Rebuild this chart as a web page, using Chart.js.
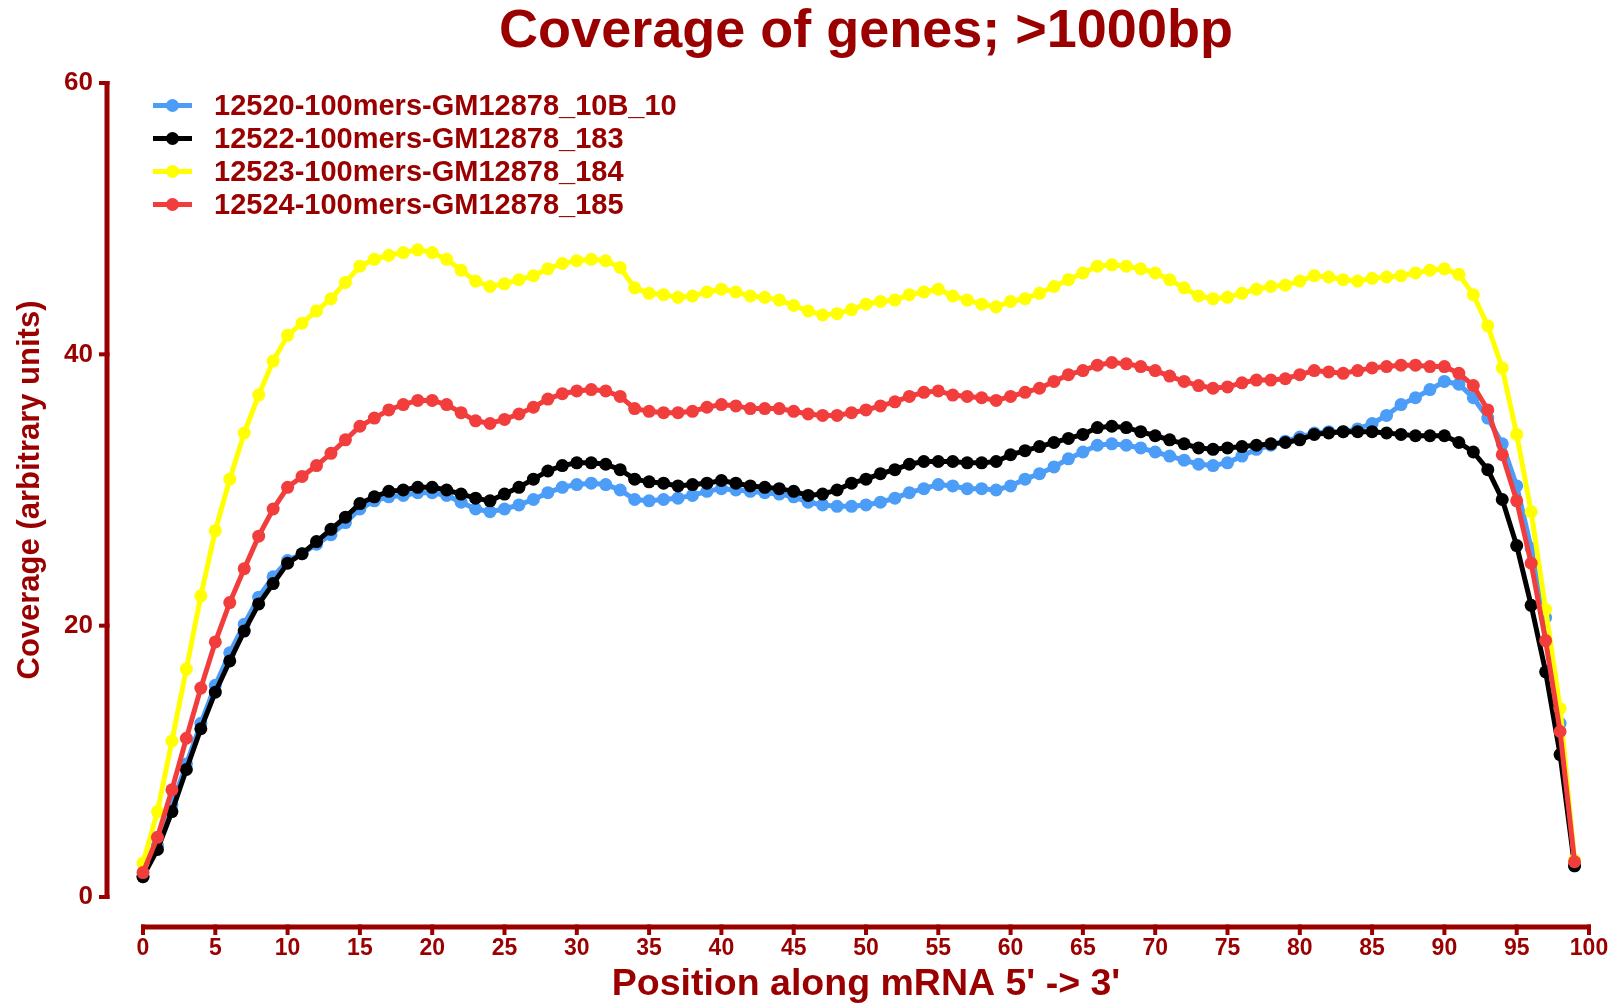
<!DOCTYPE html>
<html>
<head>
<meta charset="utf-8">
<title>Coverage of genes; >1000bp</title>
<script src="https://cdn.jsdelivr.net/npm/chart.js@4.4.1/dist/chart.umd.min.js"></script>
<style>
  html, body { margin: 0; padding: 0; background: #ffffff; }
  #wrap { width: 1621px; height: 1003px; position: relative; }
</style>
</head>
<body>
<div id="wrap"><canvas id="chart" width="1621" height="1003"></canvas></div>
<script>
// Percentile position along the transcript (5' -> 3')
const positions = [
  0, 1, 2, 3, 4, 5, 6, 7, 8, 9, 10, 11, 12, 13, 14, 15, 16, 17, 18, 19,
  20, 21, 22, 23, 24, 25, 26, 27, 28, 29, 30, 31, 32, 33, 34, 35, 36, 37, 38, 39,
  40, 41, 42, 43, 44, 45, 46, 47, 48, 49, 50, 51, 52, 53, 54, 55, 56, 57, 58, 59,
  60, 61, 62, 63, 64, 65, 66, 67, 68, 69, 70, 71, 72, 73, 74, 75, 76, 77, 78, 79,
  80, 81, 82, 83, 84, 85, 86, 87, 88, 89, 90, 91, 92, 93, 94, 95, 96, 97, 98, 99
];

const seriesNames = [
  '12520-100mers-GM12878_10B_10',
  '12522-100mers-GM12878_183',
  '12523-100mers-GM12878_184',
  '12524-100mers-GM12878_185'
];

const cov10B10 = [
  1.5, 3.8, 6.8, 9.8, 12.8, 15.6, 18.0, 20.1, 22.1, 23.6,
  24.8, 25.3, 26.0, 26.7, 27.6, 28.6, 29.2, 29.5, 29.6, 29.8,
  29.8, 29.6, 29.1, 28.6, 28.4, 28.6, 28.9, 29.3, 29.8, 30.2,
  30.4, 30.5, 30.4, 30.0, 29.3, 29.2, 29.3, 29.4, 29.6, 29.9,
  30.1, 30.0, 29.9, 29.8, 29.7, 29.5, 29.1, 28.9, 28.8, 28.8,
  28.9, 29.1, 29.4, 29.8, 30.1, 30.4, 30.3, 30.1, 30.1, 30.0,
  30.3, 30.8, 31.2, 31.7, 32.3, 32.8, 33.3, 33.4, 33.3, 33.1,
  32.8, 32.5, 32.2, 31.9, 31.8, 32.0, 32.5, 33.0, 33.3, 33.6,
  33.9, 34.2, 34.3, 34.3, 34.5, 34.9, 35.5, 36.3, 36.8, 37.4,
  38.0, 37.8, 36.8, 35.3, 33.4, 30.3, 25.7, 20.6, 12.8, 2.3
];

const cov183 = [
  1.5, 3.5, 6.3, 9.4, 12.4, 15.1, 17.4, 19.6, 21.6, 23.1,
  24.6, 25.3, 26.2, 27.1, 28.0, 29.0, 29.5, 29.9, 30.0, 30.2,
  30.2, 30.0, 29.7, 29.4, 29.2, 29.7, 30.2, 30.8, 31.4, 31.8,
  32.0, 32.0, 31.9, 31.5, 30.8, 30.6, 30.5, 30.3, 30.4, 30.5,
  30.7, 30.5, 30.3, 30.2, 30.1, 29.9, 29.6, 29.7, 30.0, 30.5,
  30.8, 31.2, 31.5, 31.9, 32.1, 32.1, 32.1, 32.0, 32.0, 32.1,
  32.6, 32.9, 33.2, 33.5, 33.8, 34.1, 34.6, 34.7, 34.6, 34.3,
  34.0, 33.7, 33.4, 33.1, 33.0, 33.1, 33.2, 33.3, 33.4, 33.5,
  33.7, 34.1, 34.2, 34.3, 34.3, 34.3, 34.2, 34.1, 34.0, 34.0,
  34.0, 33.5, 32.8, 31.5, 29.3, 25.9, 21.5, 16.6, 10.5, 2.3
];

const cov184 = [
  2.5, 6.3, 11.5, 16.8, 22.2, 27.0, 30.8, 34.2, 37.0, 39.5,
  41.4, 42.3, 43.2, 44.1, 45.3, 46.5, 47.0, 47.3, 47.5, 47.7,
  47.5, 47.0, 46.2, 45.4, 45.0, 45.2, 45.5, 45.8, 46.3, 46.7,
  46.9, 47.0, 46.9, 46.4, 44.9, 44.5, 44.4, 44.2, 44.3, 44.6,
  44.8, 44.6, 44.3, 44.2, 44.0, 43.6, 43.2, 42.9, 43.0, 43.3,
  43.7, 43.9, 44.0, 44.4, 44.6, 44.8, 44.3, 44.0, 43.7, 43.5,
  43.9, 44.1, 44.5, 45.0, 45.5, 46.0, 46.5, 46.6, 46.5, 46.3,
  46.0, 45.5, 44.9, 44.3, 44.1, 44.2, 44.5, 44.8, 45.0, 45.1,
  45.4, 45.8, 45.7, 45.5, 45.4, 45.6, 45.7, 45.8, 46.0, 46.2,
  46.3, 45.9, 44.4, 42.1, 39.0, 34.1, 28.4, 21.2, 13.9, 2.7
];

const cov185 = [
  1.8, 4.4, 7.9, 11.7, 15.4, 18.8, 21.7, 24.2, 26.6, 28.6,
  30.2, 31.0, 31.8, 32.7, 33.7, 34.7, 35.3, 35.9, 36.3, 36.6,
  36.6, 36.3, 35.7, 35.1, 34.9, 35.2, 35.6, 36.1, 36.7, 37.1,
  37.3, 37.4, 37.3, 36.9, 36.0, 35.8, 35.7, 35.7, 35.8, 36.1,
  36.3, 36.2, 36.0, 36.0, 36.0, 35.8, 35.6, 35.5, 35.5, 35.7,
  35.9, 36.2, 36.5, 36.9, 37.2, 37.3, 37.0, 36.9, 36.8, 36.6,
  36.9, 37.2, 37.5, 38.0, 38.5, 38.8, 39.2, 39.4, 39.3, 39.1,
  38.8, 38.4, 38.0, 37.7, 37.5, 37.6, 37.9, 38.1, 38.1, 38.2,
  38.5, 38.8, 38.7, 38.6, 38.8, 39.0, 39.1, 39.2, 39.2, 39.1,
  39.1, 38.6, 37.7, 35.9, 32.6, 29.2, 24.6, 18.9, 12.2, 2.6
];

const seriesValues = [cov10B10, cov183, cov184, cov185];
const seriesColors = ['#4c9df7', '#000000', '#ffff00', '#f23d3d'];

const xTickValues = [0, 5, 10, 15, 20, 25, 30, 35, 40, 45, 50, 55, 60, 65, 70, 75, 80, 85, 90, 95, 100];
const yTickValues = [0, 20, 40, 60];

const INK = '#9a0000';
const FAMILY = "'Liberation Sans', Arial, Helvetica, sans-serif";

// Detached (offset) axis lines with their tick marks, placed from the scales.
const offsetAxes = {
  id: 'offsetAxes',
  beforeDatasetsDraw(chart, args, opts) {
    const { ctx, chartArea, scales } = chart;
    const xs = scales.x, ys = scales.y;
    ctx.save();
    ctx.strokeStyle = INK;
    ctx.lineCap = 'butt';

    // vertical axis
    const ax = chartArea.left - opts.yGap;
    const yTop = ys.getPixelForValue(ys.max);
    const yBot = ys.getPixelForValue(ys.min);
    ctx.lineWidth = opts.lineWidth;
    ctx.beginPath();
    ctx.moveTo(ax, yTop - opts.tickWidth / 2);
    ctx.lineTo(ax, yBot + opts.tickWidth / 2);
    ctx.stroke();
    ctx.lineWidth = opts.tickWidth;
    ys.ticks.forEach(t => {
      const py = ys.getPixelForValue(t.value);
      ctx.beginPath();
      ctx.moveTo(ax + opts.lineWidth / 2, py);
      ctx.lineTo(ax - opts.tickLength, py);
      ctx.stroke();
    });

    // horizontal axis
    const ay = chartArea.bottom + opts.xGap;
    const xL = xs.getPixelForValue(xs.min);
    const xR = xs.getPixelForValue(xs.max);
    ctx.lineWidth = opts.lineWidth;
    ctx.beginPath();
    ctx.moveTo(xL - opts.tickWidth / 2, ay);
    ctx.lineTo(xR + opts.tickWidth / 2, ay);
    ctx.stroke();
    ctx.lineWidth = opts.tickWidth;
    xs.ticks.forEach(t => {
      const px = xs.getPixelForValue(t.value);
      ctx.beginPath();
      ctx.moveTo(px, ay - opts.lineWidth / 2);
      ctx.lineTo(px, ay + opts.tickLength);
      ctx.stroke();
    });
    ctx.restore();
  }
};

// Series key drawn inside the plotting area, one row per data set.
const seriesKey = {
  id: 'seriesKey',
  afterDatasetsDraw(chart, args, opts) {
    const { ctx } = chart;
    ctx.save();
    ctx.font = `bold ${opts.fontSize}px ${FAMILY}`;
    ctx.textBaseline = 'middle';
    ctx.textAlign = 'left';
    chart.data.datasets.forEach((ds, i) => {
      const y = opts.top + i * opts.rowGap;
      ctx.strokeStyle = ds.borderColor;
      ctx.lineWidth = opts.lineWidth;
      ctx.beginPath();
      ctx.moveTo(opts.lineStart, y);
      ctx.lineTo(opts.lineEnd, y);
      ctx.stroke();
      ctx.fillStyle = ds.borderColor;
      ctx.beginPath();
      ctx.arc((opts.lineStart + opts.lineEnd) / 2, y, opts.markerRadius, 0, Math.PI * 2);
      ctx.fill();
      ctx.fillStyle = INK;
      ctx.fillText(ds.label, opts.textX, y + 1);
    });
    ctx.restore();
  }
};

// Later data sets sit on top of the earlier ones.
const drawOrder = [3, 2, 1, 0];

const datasets = seriesNames.map((name, i) => ({
  label: name,
  data: positions.map((p, k) => ({ x: p, y: seriesValues[i][k] })),
  borderColor: seriesColors[i],
  backgroundColor: seriesColors[i],
  pointBackgroundColor: seriesColors[i],
  pointBorderColor: seriesColors[i],
  borderWidth: 5,
  pointRadius: 6.5,
  pointBorderWidth: 0,
  pointHoverRadius: 6.5,
  tension: 0,
  fill: false,
  clip: false,
  order: drawOrder[i]
}));

new Chart(document.getElementById('chart'), {
  type: 'line',
  data: { datasets },
  plugins: [offsetAxes, seriesKey],
  options: {
    responsive: false,
    animation: false,
    devicePixelRatio: 1,
    events: [],
    layout: { padding: { left: 0, right: 32, top: 0, bottom: 0 } },
    plugins: {
      legend: { display: false },
      tooltip: { enabled: false },
      title: {
        display: true,
        fullSize: false,
        text: 'Coverage of genes; >1000bp',
        color: INK,
        font: { family: FAMILY, size: 54, weight: 'bold', lineHeight: 1 },
        padding: { top: 5, bottom: 24 }
      },
      offsetAxes: { yGap: 36, xGap: 30, lineWidth: 5, tickWidth: 4, tickLength: 8 },
      seriesKey: {
        top: 105.5, rowGap: 33, lineStart: 153, lineEnd: 192,
        lineWidth: 5, markerRadius: 6.5, textX: 214, fontSize: 29
      }
    },
    scales: {
      x: {
        type: 'linear',
        min: 0,
        max: 100,
        afterBuildTicks: s => { s.ticks = xTickValues.map(v => ({ value: v })); },
        afterFit: s => { s.height = 106; s.paddingLeft = 0; s.paddingRight = 0; },
        ticks: {
          color: INK,
          padding: 38,
          autoSkip: false,
          maxRotation: 0,
          font: { family: FAMILY, size: 23, weight: 'bold' }
        },
        grid: { display: false, drawTicks: false },
        border: { display: false },
        title: {
          display: true,
          text: "Position along mRNA 5' -> 3'",
          color: INK,
          font: { family: FAMILY, size: 37.5, weight: 'bold', lineHeight: 1 },
          padding: { top: 0, bottom: 0 }
        }
      },
      y: {
        type: 'linear',
        min: 0,
        max: 60,
        afterBuildTicks: s => { s.ticks = yTickValues.map(v => ({ value: v })); },
        afterFit: s => { s.width = 143; s.paddingTop = 0; s.paddingBottom = 0; },
        ticks: {
          color: INK,
          padding: 50,
          font: { family: FAMILY, size: 26, weight: 'bold' }
        },
        grid: { display: false, drawTicks: false },
        border: { display: false },
        title: {
          display: true,
          text: 'Coverage (arbitrary units)',
          color: INK,
          font: { family: FAMILY, size: 31, weight: 'bold', lineHeight: 1 },
          padding: { top: 15, bottom: 0 }
        }
      }
    }
  }
});
</script>
</body>
</html>
